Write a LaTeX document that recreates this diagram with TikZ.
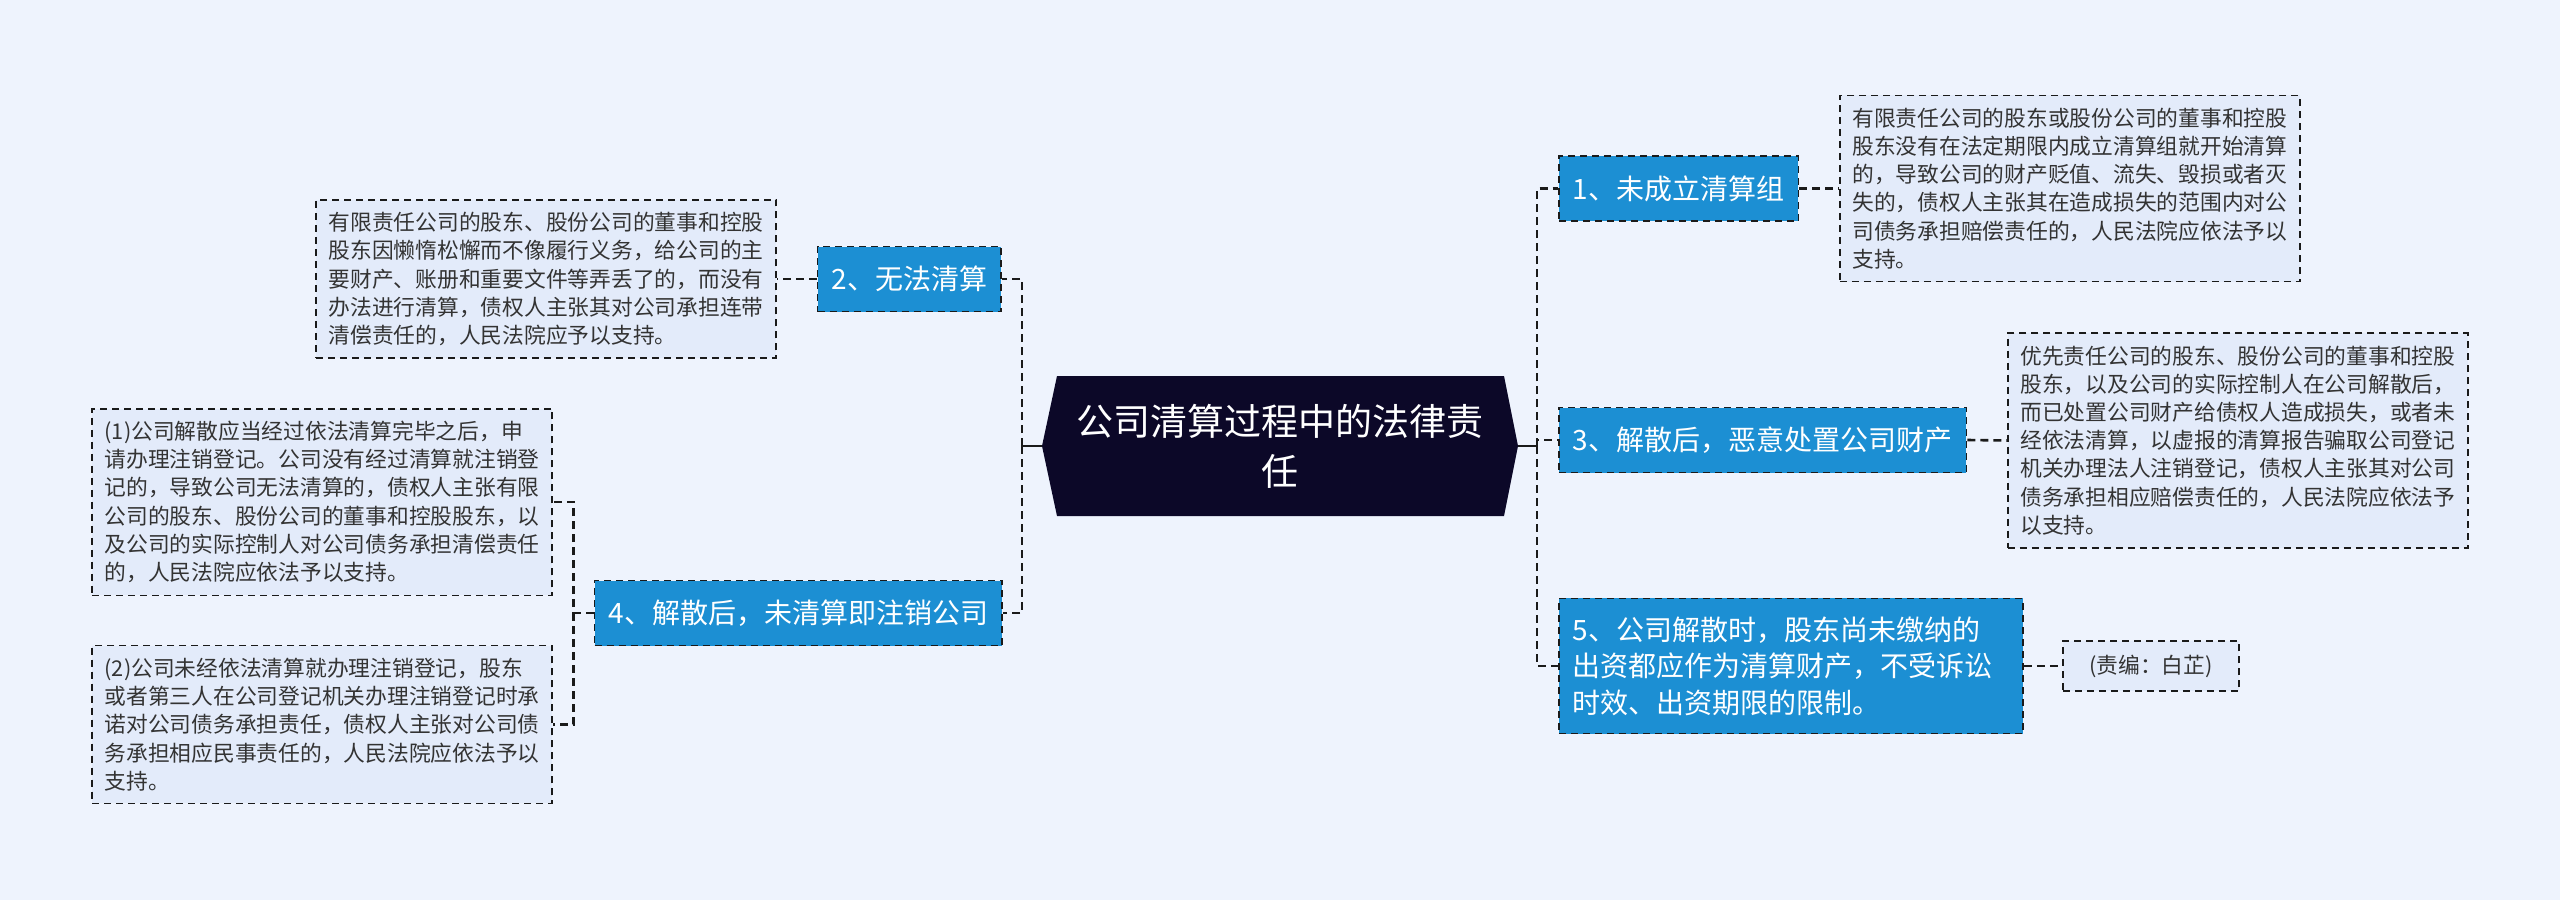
\documentclass[tikz,border=0pt]{standalone}
\usepackage{fontspec}
\setmainfont{Noto Sans CJK SC}
\definecolor{pagebg}{HTML}{EEF3FD}
\definecolor{notefill}{HTML}{E3EBFA}
\definecolor{topicblue}{HTML}{1C8FD3}
\definecolor{rootnavy}{HTML}{0C0828}
\definecolor{inkgray}{HTML}{333333}
\definecolor{linkink}{HTML}{1A1A1A}
\tikzset{
  NoteStyle/.style = { rectangle, draw = linkink, line width = 1.8pt,
                       dash pattern = on 7pt off 5pt, fill = notefill,
                       text = inkgray, align = left, text width = 435pt,
                       inner xsep = 12.5pt, inner ysep = 12.5pt,
                       font = \fontsize{21.75}{28.2}\selectfont },
  TopicStyle/.style = { rectangle, draw = linkink, line width = 1.8pt,
                       dash pattern = on 7pt off 5pt, fill = topicblue,
                       text = white, minimum height = 65pt, inner xsep = 14pt,
                       font = \fontsize{28}{36.5}\selectfont },
  RootStyle/.style = { minimum width = 476pt, minimum height = 140pt,
                       inner sep = 0pt, text = white, align = center,
                       font = \fontsize{37}{50}\selectfont,
                       path picture = {
                         \fill[rootnavy] (path picture bounding box.west)
                           -- ([xshift=15pt]path picture bounding box.north west)
                           -- ([xshift=-14pt]path picture bounding box.north east)
                           -- (path picture bounding box.east)
                           -- ([xshift=-14pt]path picture bounding box.south east)
                           -- ([xshift=15pt]path picture bounding box.south west)
                           -- cycle; } },
  LinkStyle/.style = { draw = linkink, line width = 2.6pt,
                       dash pattern = on 8pt off 5pt },
  StubStyle/.style = { draw = linkink, line width = 2.6pt } }

\begin{document}
\begin{tikzpicture}[x=1pt, y=-1pt]
  \fill[pagebg] (0,0) rectangle (2560,900);
  \useasboundingbox (0,0) rectangle (2560,900);

  \node[RootStyle] (root) at (1280,446) {公司清算过程中的法律责\\任};
  \coordinate (lhub) at (1022,446);
  \coordinate (rhub) at (1537,446);

  % right side
  \node[TopicStyle, anchor = west] (n1) at (1558,188.5) {1、未成立清算组};
  \node[TopicStyle, anchor = west] (n3) at (1558,440) {3、解散后，恶意处置公司财产};
  \node[TopicStyle, anchor = west, align = left, text width = 436pt,
        inner ysep = 18pt] (n5) at (1558,666)
    {5、公司解散时，股东尚未缴纳的\\出资都应作为清算财产，不受诉讼\\时效、出资期限的限制。};

  \node[NoteStyle, anchor = west] (d1) at (1839,188.5)
    {有限责任公司的股东或股份公司的董事和控股\\
     股东没有在法定期限内成立清算组就开始清算\\
     的，导致公司的财产贬值、流失、毁损或者灭\\
     失的，债权人主张其在造成损失的范围内对公\\
     司债务承担赔偿责任的，人民法院应依法予以\\
     支持。};
  \node[NoteStyle, anchor = west] (d3) at (2007,440.5)
    {优先责任公司的股东、股份公司的董事和控股\\
     股东，以及公司的实际控制人在公司解散后，\\
     而已处置公司财产给债权人造成损失，或者未\\
     经依法清算，以虚报的清算报告骗取公司登记\\
     机关办理法人注销登记，债权人主张其对公司\\
     债务承担相应赔偿责任的，人民法院应依法予\\
     以支持。};
  \node[NoteStyle, text width = {}, minimum width = 176pt, minimum height = 50pt,
        inner ysep = 0pt, anchor = west] (memo) at (2062,666) {(责编：白芷)};

  % left side
  \node[TopicStyle, anchor = east] (n2) at (1002,279) {2、无法清算};
  \node[TopicStyle, anchor = east] (n4) at (1003,613) {4、解散后，未清算即注销公司};

  \node[NoteStyle, anchor = east] (d2) at (777,279)
    {有限责任公司的股东、股份公司的董事和控股\\
     股东因懒惰松懈而不像履行义务，给公司的主\\
     要财产、账册和重要文件等弄丢了的，而没有\\
     办法进行清算，债权人主张其对公司承担连带\\
     清偿责任的，人民法院应予以支持。};
  \node[NoteStyle, anchor = east] (d4a) at (553,502)
    {(1)公司解散应当经过依法清算完毕之后，申\\
     请办理注销登记。公司没有经过清算就注销登\\
     记的，导致公司无法清算的，债权人主张有限\\
     公司的股东、股份公司的董事和控股股东，以\\
     及公司的实际控制人对公司债务承担清偿责任\\
     的，人民法院应依法予以支持。};
  \node[NoteStyle, anchor = east] (d4b) at (553,724.5)
    {(2)公司未经依法清算就办理注销登记，股东\\
     或者第三人在公司登记机关办理注销登记时承\\
     诺对公司债务承担责任，债权人主张对公司债\\
     务承担相应民事责任的，人民法院应依法予以\\
     支持。};

  % connectors
  \draw[StubStyle] (root.west) -- (lhub);
  \draw[StubStyle] (root.east) -- (rhub);
  \draw[LinkStyle] (lhub) |- (n2.east);
  \draw[LinkStyle] (lhub) |- (n4.east);
  \draw[LinkStyle] (rhub) |- (n1.west);
  \draw[LinkStyle] (rhub) |- (n3.west);
  \draw[LinkStyle] (rhub) |- (n5.west);
  \draw[LinkStyle] (n1.east) -- (d1.west);
  \draw[LinkStyle] (n3.east) -- (d3.west);
  \draw[LinkStyle] (n5.east) -- (memo.west);
  \draw[LinkStyle] (n2.west) -- (d2.east);
  \draw[LinkStyle] (n4.west) -- ++(-20,0) coordinate (lsub) |- (d4a.east);
  \draw[LinkStyle] (lsub) |- (d4b.east);
\end{tikzpicture}
\end{document}
